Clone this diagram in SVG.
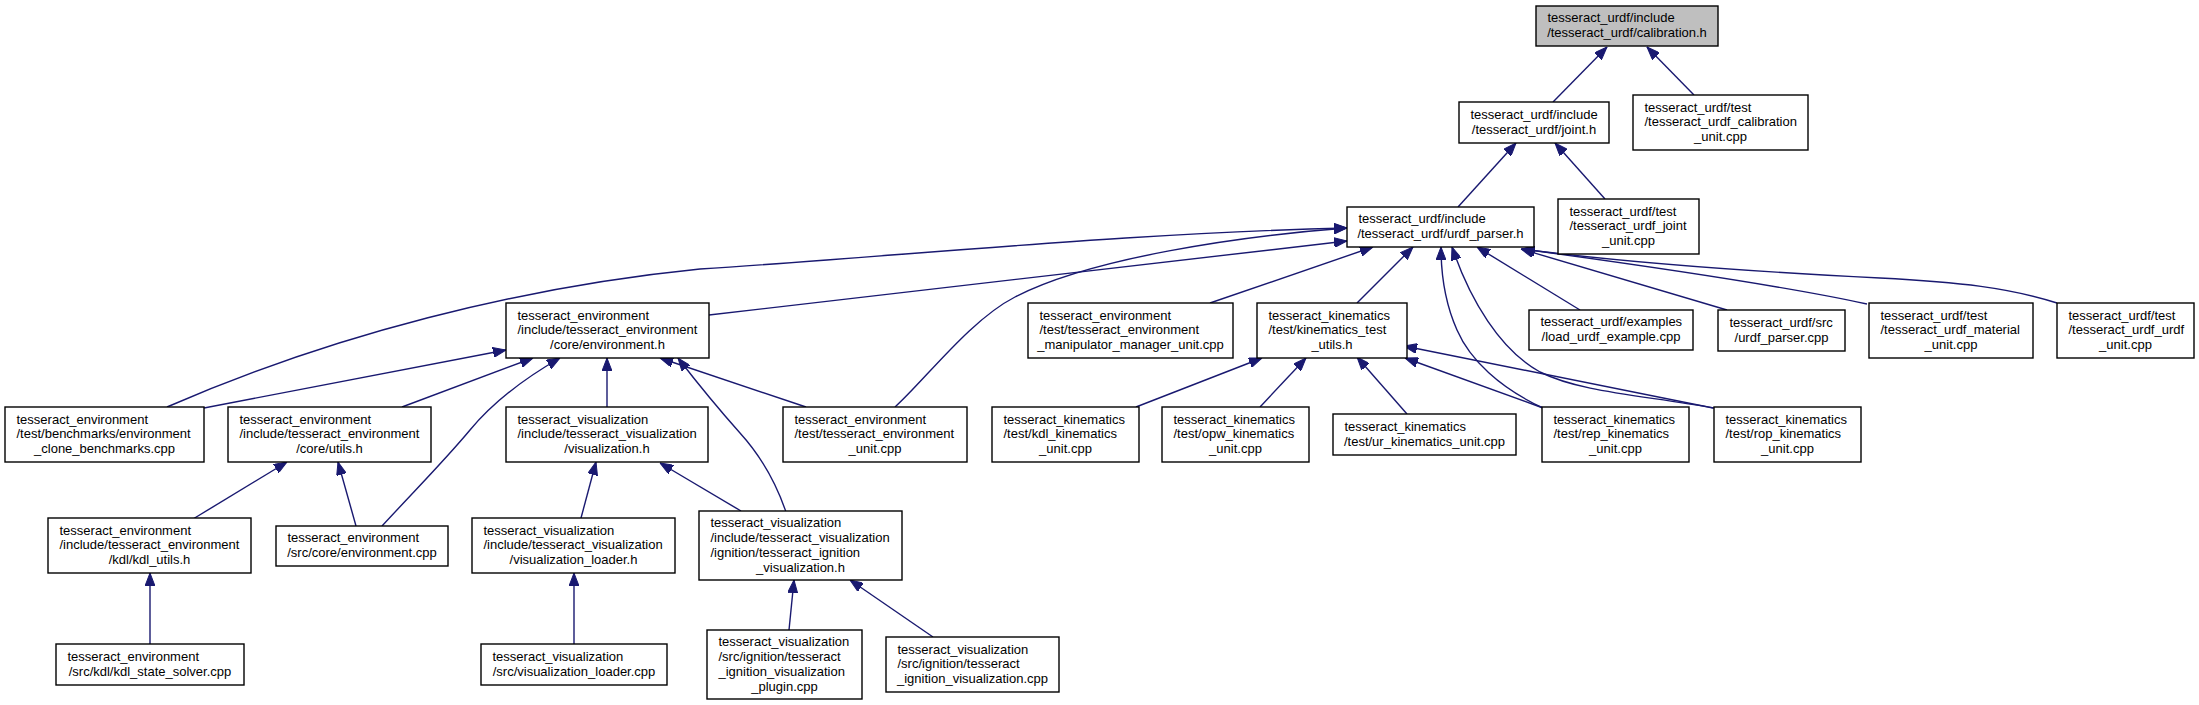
<svg xmlns="http://www.w3.org/2000/svg" width="2199" height="705" viewBox="0 0 2199 705">
<defs>
<style>
.n rect{fill:#fff;stroke:#000;stroke-width:1.4}
.g rect{fill:#bfbfbf}
text{font-family:"Liberation Sans",Arial,Helvetica,sans-serif;font-size:13px;fill:#000}
.c{text-anchor:middle}
#edges path{fill:none;stroke:#191970;stroke-width:1.4;marker-end:url(#a)}
</style>
<marker id="a" viewBox="0 0 13 10" refX="13" refY="5" markerWidth="13" markerHeight="10" markerUnits="userSpaceOnUse" orient="auto">
<path d="M0,0 L13,5 L0,10 z" fill="#191970" stroke="#191970" stroke-width="1"/>
</marker>
</defs>
<rect width="2199" height="705" fill="#fff"/>
<g id="edges">
<path d="M1553,102 L1607,47"/>
<path d="M1694,95 L1647,47"/>
<path d="M1458,207 L1516,143"/>
<path d="M1605,199 L1555,143"/>
<path d="M167,407 C332,335 520,287 700,269 C915,255 1130,233 1347,228"/>
<path d="M709,315 L1347,241"/>
<path d="M895,407 C925,380 970,320 1015,297 C1090,258 1240,236 1347,228"/>
<path d="M1210,303 L1373,247"/>
<path d="M1357,303 L1413,247"/>
<path d="M1543,408 C1500,388 1470,360 1457,330 C1445,303 1441,275 1441,247"/>
<path d="M1714,408 C1640,395 1580,392 1540,372 C1500,350 1470,300 1452,247"/>
<path d="M1580,310 L1477,247"/>
<path d="M1727,310 L1521,249"/>
<path d="M1867,304 C1780,285 1640,265 1522,249"/>
<path d="M2057,303 C2010,288 1960,282 1880,278 C1760,272 1620,262 1522,249"/>
<path d="M204,408 L506,350"/>
<path d="M402,407 L533,358"/>
<path d="M382,526 C420,485 445,460 470,430 C495,400 525,378 560,358"/>
<path d="M607,407 L607,358"/>
<path d="M806,407 L660,358"/>
<path d="M786,512 C775,480 760,455 740,433 C715,405 695,380 678,358"/>
<path d="M581,518 L596,462"/>
<path d="M741,511 L660,463"/>
<path d="M193,519 L287,462"/>
<path d="M356,526 L338,462"/>
<path d="M150,644 L150,573"/>
<path d="M574,644 L574,573"/>
<path d="M789,630 L794,580"/>
<path d="M933,637 L850,580"/>
<path d="M1136,407 L1262,358"/>
<path d="M1260,407 L1306,358"/>
<path d="M1407,414 L1357,357"/>
<path d="M1543,408 L1405,358"/>
<path d="M1713,408 L1404,346"/>
</g>
<g id="n1" class="n g"><rect x="1536" y="6" width="182" height="40"/><text x="1547.5" y="22.4">tesseract_urdf/include</text><text class="c" x="1627" y="37.2">/tesseract_urdf/calibration.h</text></g>
<g id="n2" class="n"><rect x="1459" y="102" width="150" height="41"/><text x="1470.5" y="118.9">tesseract_urdf/include</text><text class="c" x="1534" y="133.7">/tesseract_urdf/joint.h</text></g>
<g id="n3" class="n"><rect x="1633" y="95" width="175" height="55"/><text x="1644.5" y="111.5">tesseract_urdf/test</text><text x="1644.5" y="126.3">/tesseract_urdf_calibration</text><text class="c" x="1720.5" y="141.1">_unit.cpp</text></g>
<g id="n4" class="n"><rect x="1347" y="207" width="187" height="40"/><text x="1358.5" y="223.4">tesseract_urdf/include</text><text class="c" x="1440.5" y="238.2">/tesseract_urdf/urdf_parser.h</text></g>
<g id="n5" class="n"><rect x="1558" y="199" width="141" height="55"/><text x="1569.5" y="215.5">tesseract_urdf/test</text><text x="1569.5" y="230.3">/tesseract_urdf_joint</text><text class="c" x="1628.5" y="245.1">_unit.cpp</text></g>
<g id="n6" class="n"><rect x="506" y="303" width="203" height="55"/><text x="517.5" y="319.5">tesseract_environment</text><text x="517.5" y="334.3">/include/tesseract_environment</text><text class="c" x="607.5" y="349.1">/core/environment.h</text></g>
<g id="n7" class="n"><rect x="1028" y="303" width="205" height="55"/><text x="1039.5" y="319.5">tesseract_environment</text><text x="1039.5" y="334.3">/test/tesseract_environment</text><text class="c" x="1130.5" y="349.1">_manipulator_manager_unit.cpp</text></g>
<g id="n8" class="n"><rect x="1257" y="303" width="150" height="55"/><text x="1268.5" y="319.5">tesseract_kinematics</text><text x="1268.5" y="334.3">/test/kinematics_test</text><text class="c" x="1332" y="349.1">_utils.h</text></g>
<g id="n9" class="n"><rect x="1529" y="310" width="164" height="40"/><text x="1540.5" y="326.4">tesseract_urdf/examples</text><text class="c" x="1611" y="341.2">/load_urdf_example.cpp</text></g>
<g id="n10" class="n"><rect x="1718" y="310" width="127" height="41"/><text x="1729.5" y="326.9">tesseract_urdf/src</text><text class="c" x="1781.5" y="341.7">/urdf_parser.cpp</text></g>
<g id="n11" class="n"><rect x="1869" y="303" width="164" height="55"/><text x="1880.5" y="319.5">tesseract_urdf/test</text><text x="1880.5" y="334.3">/tesseract_urdf_material</text><text class="c" x="1951" y="349.1">_unit.cpp</text></g>
<g id="n12" class="n"><rect x="2057" y="303" width="137" height="55"/><text x="2068.5" y="319.5">tesseract_urdf/test</text><text x="2068.5" y="334.3">/tesseract_urdf_urdf</text><text class="c" x="2125.5" y="349.1">_unit.cpp</text></g>
<g id="n13" class="n"><rect x="5" y="407" width="199" height="55"/><text x="16.5" y="423.5">tesseract_environment</text><text x="16.5" y="438.3">/test/benchmarks/environment</text><text class="c" x="104.5" y="453.1">_clone_benchmarks.cpp</text></g>
<g id="n14" class="n"><rect x="228" y="407" width="203" height="55"/><text x="239.5" y="423.5">tesseract_environment</text><text x="239.5" y="438.3">/include/tesseract_environment</text><text class="c" x="329.5" y="453.1">/core/utils.h</text></g>
<g id="n15" class="n"><rect x="506" y="407" width="202" height="55"/><text x="517.5" y="423.5">tesseract_visualization</text><text x="517.5" y="438.3">/include/tesseract_visualization</text><text class="c" x="607" y="453.1">/visualization.h</text></g>
<g id="n16" class="n"><rect x="783" y="407" width="184" height="55"/><text x="794.5" y="423.5">tesseract_environment</text><text x="794.5" y="438.3">/test/tesseract_environment</text><text class="c" x="875" y="453.1">_unit.cpp</text></g>
<g id="n17" class="n"><rect x="992" y="407" width="147" height="55"/><text x="1003.5" y="423.5">tesseract_kinematics</text><text x="1003.5" y="438.3">/test/kdl_kinematics</text><text class="c" x="1065.5" y="453.1">_unit.cpp</text></g>
<g id="n18" class="n"><rect x="1162" y="407" width="147" height="55"/><text x="1173.5" y="423.5">tesseract_kinematics</text><text x="1173.5" y="438.3">/test/opw_kinematics</text><text class="c" x="1235.5" y="453.1">_unit.cpp</text></g>
<g id="n19" class="n"><rect x="1333" y="414" width="183" height="41"/><text x="1344.5" y="430.9">tesseract_kinematics</text><text class="c" x="1424.5" y="445.7">/test/ur_kinematics_unit.cpp</text></g>
<g id="n20" class="n"><rect x="1542" y="407" width="147" height="55"/><text x="1553.5" y="423.5">tesseract_kinematics</text><text x="1553.5" y="438.3">/test/rep_kinematics</text><text class="c" x="1615.5" y="453.1">_unit.cpp</text></g>
<g id="n21" class="n"><rect x="1714" y="407" width="147" height="55"/><text x="1725.5" y="423.5">tesseract_kinematics</text><text x="1725.5" y="438.3">/test/rop_kinematics</text><text class="c" x="1787.5" y="453.1">_unit.cpp</text></g>
<g id="n22" class="n"><rect x="48" y="518" width="203" height="55"/><text x="59.5" y="534.5">tesseract_environment</text><text x="59.5" y="549.3">/include/tesseract_environment</text><text class="c" x="149.5" y="564.1">/kdl/kdl_utils.h</text></g>
<g id="n23" class="n"><rect x="276" y="526" width="172" height="40"/><text x="287.5" y="542.4">tesseract_environment</text><text class="c" x="362" y="557.2">/src/core/environment.cpp</text></g>
<g id="n24" class="n"><rect x="472" y="518" width="203" height="55"/><text x="483.5" y="534.5">tesseract_visualization</text><text x="483.5" y="549.3">/include/tesseract_visualization</text><text class="c" x="573.5" y="564.1">/visualization_loader.h</text></g>
<g id="n25" class="n"><rect x="699" y="511" width="203" height="69"/><text x="710.5" y="527.1">tesseract_visualization</text><text x="710.5" y="541.9">/include/tesseract_visualization</text><text x="710.5" y="556.7">/ignition/tesseract_ignition</text><text class="c" x="800.5" y="571.5">_visualization.h</text></g>
<g id="n26" class="n"><rect x="56" y="644" width="188" height="41"/><text x="67.5" y="660.9">tesseract_environment</text><text class="c" x="150" y="675.7">/src/kdl/kdl_state_solver.cpp</text></g>
<g id="n27" class="n"><rect x="481" y="644" width="186" height="41"/><text x="492.5" y="660.9">tesseract_visualization</text><text class="c" x="574" y="675.7">/src/visualization_loader.cpp</text></g>
<g id="n28" class="n"><rect x="707" y="630" width="155" height="69"/><text x="718.5" y="646.1">tesseract_visualization</text><text x="718.5" y="660.9">/src/ignition/tesseract</text><text x="718.5" y="675.7">_ignition_visualization</text><text class="c" x="784.5" y="690.5">_plugin.cpp</text></g>
<g id="n29" class="n"><rect x="886" y="637" width="173" height="55"/><text x="897.5" y="653.5">tesseract_visualization</text><text x="897.5" y="668.3">/src/ignition/tesseract</text><text class="c" x="972.5" y="683.1">_ignition_visualization.cpp</text></g>
</svg>
